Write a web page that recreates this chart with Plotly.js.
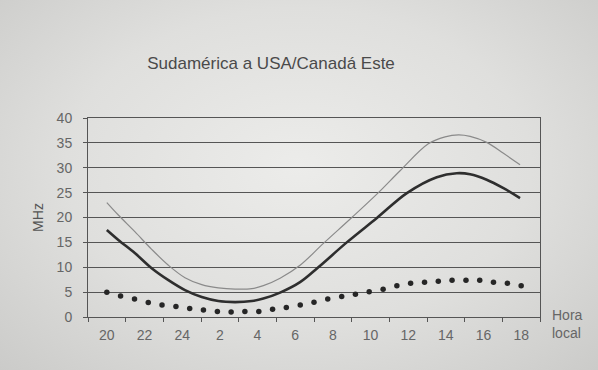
<!DOCTYPE html>
<html>
<head>
<meta charset="utf-8">
<script src="https://cdn.plot.ly/plotly-3.0.1.min.js"></script>
<style>
  html, body { margin: 0; padding: 0; }
  body { width: 598px; height: 370px; background: radial-gradient(ellipse at 50% 45%, #ececea 0%, #dfdfdd 55%, #cbcbc9 100%); }
  #chart { width: 598px; height: 370px; }
</style>
</head>
<body>
<div id="chart"></div>
<script>
// Hours since 20:00 (position on the axis), tick labels are local hour
const tickPos = [0, 2, 4, 6, 8, 10, 12, 14, 16, 18, 20, 22];
const tickLabels = ['20', '22', '24', '2', '4', '6', '8', '10', '12', '14', '16', '18'];

// Upper (thin grey) curve
const upperX = [0, 0.61, 1.5, 2.38, 3.27, 4.15, 5.04, 5.92, 6.81, 7.7, 8.31, 9.2, 10.26, 11.5, 13.01, 14.42, 15.57, 17.07, 17.96, 18.67, 19.29, 20.17, 21.06, 21.94];
const upperY = [23.0, 20.5, 17.1, 13.6, 10.4, 7.9, 6.5, 5.85, 5.6, 5.7, 6.3, 7.8, 10.4, 14.8, 20.0, 25.0, 29.4, 34.8, 36.2, 36.6, 36.3, 35.1, 32.9, 30.6];

// Middle (thick black) curve
const midX = [0, 0.61, 1.5, 2.38, 3.27, 4.15, 5.04, 5.92, 6.81, 7.7, 8.31, 9.2, 10.26, 11.23, 12.74, 14.37, 15.93, 17.52, 18.58, 19.29, 20.17, 21.06, 21.94];
const midY = [17.5, 15.5, 12.8, 9.8, 7.4, 5.4, 4.0, 3.2, 3.0, 3.2, 3.7, 4.9, 7.0, 10.0, 15.0, 20.0, 24.9, 28.1, 28.9, 28.7, 27.6, 25.9, 23.9];

// Lower (dotted) curve
const lowX = [0, 0.73, 1.47, 2.2, 2.93, 3.67, 4.4, 5.13, 5.87, 6.6, 7.33, 8.07, 8.8, 9.53, 10.27, 11, 11.73, 12.47, 13.2, 13.93, 14.67, 15.4, 16.13, 16.87, 17.6, 18.33, 19.07, 19.8, 20.53, 21.27, 22];
const lowY = [5.0, 4.2, 3.6, 2.9, 2.4, 2.1, 1.7, 1.4, 1.1, 1.0, 1.1, 1.1, 1.55, 1.9, 2.4, 2.95, 3.6, 4.1, 4.55, 5.1, 5.6, 6.3, 6.8, 7.0, 7.2, 7.4, 7.4, 7.4, 7.0, 6.8, 6.3];

const font = 'Liberation Sans Narrow, Liberation Sans, Arial, sans-serif';

const traces = [
  { x: upperX, y: upperY, type: 'scatter', mode: 'lines',
    line: { color: '#8a8a8a', width: 1.2, shape: 'spline', smoothing: 1 }, hoverinfo: 'skip' },
  { x: midX, y: midY, type: 'scatter', mode: 'lines',
    line: { color: '#2e2e2e', width: 2.6, shape: 'spline', smoothing: 1 }, hoverinfo: 'skip' },
  { x: lowX, y: lowY, type: 'scatter', mode: 'markers',
    marker: { color: '#262626', size: 5.5 }, hoverinfo: 'skip' }
];

const layout = {
  width: 598, height: 370,
  paper_bgcolor: 'rgba(0,0,0,0)',
  plot_bgcolor: 'rgba(0,0,0,0)',
  showlegend: false,
  margin: { l: 88, r: 58, t: 118, b: 53 },
  title: { text: 'Sudamérica a USA/Canadá Este', xref: 'paper', x: 0.405, xanchor: 'center', y: 0.83, yanchor: 'middle',
           font: { family: font, size: 17, color: '#4a4a4a' } },
  xaxis: {
    range: [-1, 23], tickmode: 'array', tickvals: tickPos, ticktext: tickLabels,
    ticks: '', showgrid: false, zeroline: false, ticklabelstandoff: 5,
    showline: true, linecolor: '#555', linewidth: 1, mirror: true,
    tickfont: { family: font, size: 14, color: '#666' },
    minor: { tickmode: 'linear', tick0: -1, dtick: 2, ticks: 'outside', ticklen: 4, tickcolor: '#555', tickwidth: 1, showgrid: false }
  },
  yaxis: {
    range: [0, 40], tickmode: 'linear', tick0: 0, dtick: 5,
    ticks: 'outside', ticklen: 4, tickcolor: '#555', ticklabelstandoff: 8,
    showgrid: true, gridcolor: '#555', gridwidth: 1, zeroline: false,
    showline: true, linecolor: '#555', linewidth: 1, mirror: true,
    tickfont: { family: font, size: 14, color: '#666' },
    title: { text: 'MHz', standoff: 9, font: { family: font, size: 14, color: '#555' } }
  },
  annotations: [
    { text: 'Hora<br>local', xref: 'paper', yref: 'paper', x: 1.0, y: 0.0, xanchor: 'left', yanchor: 'middle',
      xshift: 10, yshift: -7, showarrow: false, align: 'left',
      font: { family: font, size: 14, color: '#666' } }
  ]
};

Plotly.newPlot('chart', traces, layout, { staticPlot: true, displayModeBar: false });
</script>
</body>
</html>
